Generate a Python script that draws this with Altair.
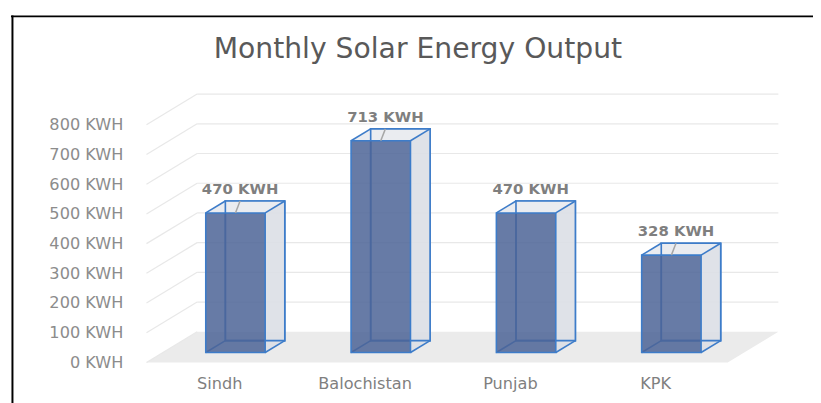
import altair as alt
import pandas as pd

# ---- data ----
regions = ["Sindh", "Balochistan", "Punjab", "KPK"]
output_kwh = [470, 713, 470, 328]
y_ticks = [0, 100, 200, 300, 400, 500, 600, 700, 800]
unit = "KWH"
title_text = "Monthly Solar Energy Output"

# ---- 3D look (style constants, in pixels) ----
SLOT_PX = 146.75      # width of one category slot
PX_PER_KWH = 0.3      # vertical scale
SLANT = 1.65          # horizontal px per vertical px of depth
BAR_HALF_PX = 30
Z_WALL, Z_BACK, Z_FRONT = 31, 22, 10


def shift(z):
    d = Z_WALL - z
    return -d * SLANT / SLOT_PX, -d / PX_PER_KWH


fx, fy = shift(Z_FRONT)
bx, by = shift(Z_BACK)
wx, wy = shift(0)
hw = BAR_HALF_PX / SLOT_PX
n = len(regions)

bars = pd.DataFrame({"region": regions, "value": output_kwh})
bars["cx"] = bars.index + 0.5
bars["label"] = bars["value"].astype(str) + " " + unit
bars["xl_f"] = bars.cx - hw + fx
bars["xr_f"] = bars.cx + hw + fx
bars["yb_f"] = fy
bars["yt_f"] = bars.value + fy
bars["xl_b"] = bars.cx - hw + bx
bars["xr_b"] = bars.cx + hw + bx
bars["yb_b"] = by
bars["yt_b"] = bars.value + by
bars["cx_f"] = bars.cx + fx

side = pd.concat([
    pd.DataFrame({"region": bars.region, "x": bars.xr_f, "top": bars.yt_f, "bot": bars.yb_f}),
    pd.DataFrame({"region": bars.region, "x": bars.xr_b, "top": bars.yt_b, "bot": bars.yb_b}),
])
topf = pd.concat([
    pd.DataFrame({"region": bars.region, "y": bars.yt_f, "xl": bars.xl_f, "xr": bars.xr_f}),
    pd.DataFrame({"region": bars.region, "y": bars.yt_b, "xl": bars.xl_b, "xr": bars.xr_b}),
])
edges = pd.concat([
    pd.DataFrame({"x": bars.xl_f, "y": bars.yt_f, "x2": bars.xl_b, "y2": bars.yt_b}),
    pd.DataFrame({"x": bars.xr_f, "y": bars.yt_f, "x2": bars.xr_b, "y2": bars.yt_b}),
    pd.DataFrame({"x": bars.xr_f, "y": bars.yb_f, "x2": bars.xr_b, "y2": bars.yb_b}),
    pd.DataFrame({"x": bars.xl_f, "y": bars.yb_f, "x2": bars.xl_b, "y2": bars.yb_b}),
])
floor = pd.DataFrame({"y": [0, wy], "xl": [0, wx], "xr": [n, n + wx]})
ticks = pd.DataFrame({"v": y_ticks})
ticks["xw"] = wx
ticks["yw"] = ticks.v + wy
ticks["x0"] = 0
ticks["xn"] = n

xs = alt.Scale(domain=[0, n], nice=False, zero=False)
ys = alt.Scale(domain=[0, 800], nice=False, zero=False)

BLUE = "#3d7cc9"
GRID = "#e8e8e8"
label_expr = "[" + ",".join("'%s'" % r for r in regions) + "][floor(datum.value)]"

x_axis = alt.Axis(values=[i + 0.5 for i in range(n)], labelExpr=label_expr, labelOffset=-51,
                  ticks=False, tickSize=0, domain=False, grid=False, labelPadding=57,
                  labelBaseline="alphabetic", labelFontSize=16.3, labelColor="#7f7f7f",
                  labelFont="DejaVu Sans", title=None)
y_axis = alt.Axis(values=y_ticks, labelExpr="datum.value + ' " + unit + "'", labelOffset=31,
                  ticks=False, tickSize=0, domain=False, grid=False, labelPadding=75,
                  labelFontSize=16.3, labelColor="#8c8c8c", labelFont="DejaVu Sans", title=None)


def X(field):
    return alt.X(field, scale=xs, axis=x_axis, stack=False)


def Y(field):
    return alt.Y(field, scale=ys, axis=y_axis, stack=False)


floor_layer = alt.Chart(floor).mark_area(orient="horizontal", color="#ebebeb").encode(
    y=Y("y:Q"), x=X("xl:Q"), x2="xr:Q",
)
wall_diag = alt.Chart(ticks).mark_rule(color=GRID, strokeWidth=1.2).encode(
    x=X("xw:Q"), y=Y("yw:Q"), x2="x0:Q", y2="v:Q",
)
grid_lines = alt.Chart(ticks).transform_filter("datum.v > 0").mark_rule(color=GRID, strokeWidth=1.2).encode(
    x=X("x0:Q"), x2="xn:Q", y=Y("v:Q"),
)
back_face = alt.Chart(bars).mark_rect(fill="transparent", stroke=BLUE, strokeWidth=1.6).encode(
    x=X("xl_b:Q"), x2="xr_b:Q", y=Y("yb_b:Q"), y2="yt_b:Q",
)
side_face = alt.Chart(side).mark_area(color="#dcdfe5", opacity=0.9).encode(
    x=X("x:Q"), y=Y("top:Q"), y2="bot:Q", detail="region:N",
)
top_face = alt.Chart(topf).mark_area(orient="horizontal", color="#e8eaee", opacity=0.9).encode(
    y=Y("y:Q"), x=X("xl:Q"), x2="xr:Q", detail="region:N",
)
back_face2 = alt.Chart(bars).mark_rect(fill="transparent", stroke=BLUE, strokeWidth=1.6).encode(
    x=X("xl_b:Q"), x2="xr_b:Q", y=Y("yb_b:Q"), y2="yt_b:Q",
)
edge_layer = alt.Chart(edges).mark_rule(color=BLUE, strokeWidth=1.6).encode(
    x=X("x:Q"), y=Y("y:Q"), x2="x2:Q", y2="y2:Q",
)
front_face = alt.Chart(bars).mark_rect(fill="#4c6496", fillOpacity=0.85, stroke=BLUE, strokeWidth=1.6).encode(
    x=X("xl_f:Q"), x2="xr_f:Q", y=Y("yb_f:Q"), y2="yt_f:Q",
)
leaders = alt.Chart(bars).transform_filter("datum.region != 'Punjab'").mark_rule(
    color="#a6a6a6", strokeWidth=1.5, xOffset=-30).encode(
    x=X("cx:Q"), y=Y("yt_b:Q"), x2="cx_f:Q", y2="yt_f:Q",
)
value_labels = alt.Chart(bars).mark_text(font="DejaVu Sans", fontWeight="bold", fontSize=15,
                                         color="#7f7f7f", dx=-30, dy=-3, baseline="middle").encode(
    x=X("cx:Q"), y=Y("value:Q"), text="label:N",
)
one_row = alt.Data(values=[{"title": title_text}])
title_layer = alt.Chart(one_row).mark_text(font="DejaVu Sans", fontSize=28.5, color="#595959",
                                           align="center", baseline="alphabetic").encode(
    x=alt.value(223), y=alt.value(-36), text="title:N")
frame_top = alt.Chart(one_row).mark_rule(color="#000000", strokeWidth=2).encode(
    x=alt.value(-188), x2=alt.value(640), y=alt.value(-78.5))
frame_left = alt.Chart(one_row).mark_rule(color="#000000", strokeWidth=2).encode(
    x=alt.value(-186.5), y=alt.value(-79.5), y2=alt.value(330))

chart = alt.layer(
    floor_layer, wall_diag, grid_lines, back_face, side_face, top_face, back_face2,
    edge_layer, front_face, leaders, value_labels, title_layer, frame_top, frame_left,
).properties(
    width=587, height=240,
    padding={"left": 191, "top": 85, "right": 35, "bottom": 70},
    autosize=alt.AutoSizeParams(type="none"),
).configure_view(stroke=None)

chart.save("out.html", embed_options={"renderer": "svg", "actions": False})
